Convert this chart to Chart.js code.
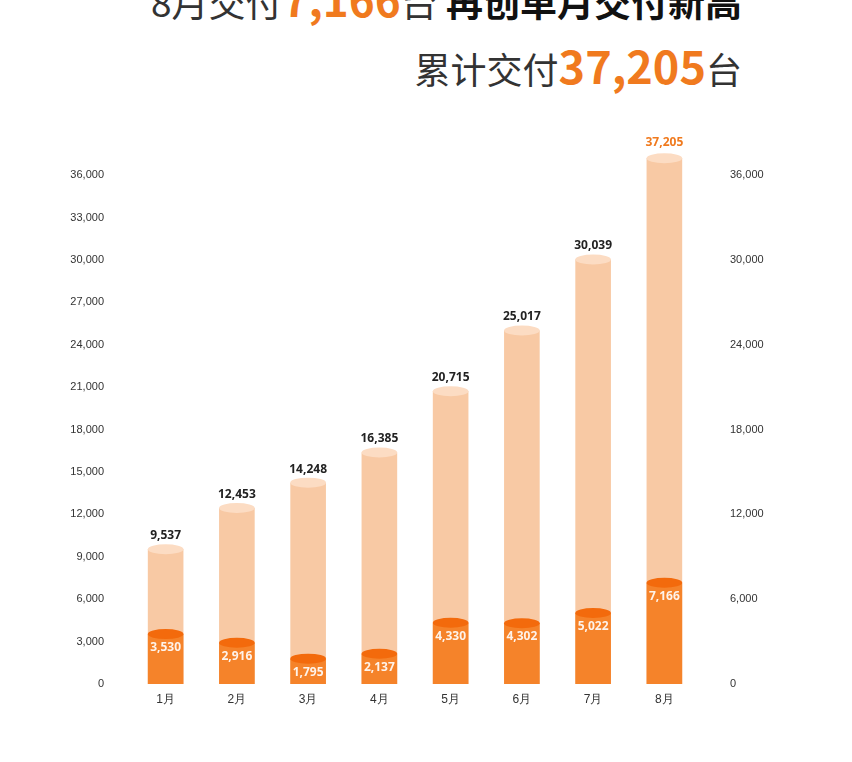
<!DOCTYPE html>
<html>
<head>
<meta charset="utf-8">
<script src="https://cdn.jsdelivr.net/npm/chart.js@4/dist/chart.umd.min.js"></script>
<style>
  body { margin: 0; background: #fff; font-family: "Noto Sans CJK SC", "Noto Sans", sans-serif; }
  #page { position: relative; width: 852px; height: 762px; overflow: hidden; }
  .t1 { position: absolute; right: 110px; top: -34px; font-size: 37px; color: #333; white-space: nowrap; }
  .t2 { position: absolute; right: 110px; top: 32px; font-size: 36px; color: #333; white-space: nowrap; }
  .or { color: #f07a1e; font-weight: bold; }
  .bk { color: #111; font-weight: bold; }
  #wrap { position: absolute; left: 0; top: 100px; width: 852px; height: 620px; }
</style>
</head>
<body>
<div id="page">
  <div class="t1">8月交付<span class="or" style="font-size:44px">7,166</span>台 <span class="bk">再创单月交付新高</span></div>
  <div class="t2">累计交付<span class="or" style="font-size:45px">37,205</span>台</div>
  <div id="wrap"><canvas id="chart"></canvas></div>
</div>
<script>
const months = ['1月', '2月', '3月', '4月', '5月', '6月', '7月', '8月'];
const cumulative = [9537, 12453, 14248, 16385, 20715, 25017, 30039, 37205];
const monthly = [3530, 2916, 1795, 2137, 4330, 4302, 5022, 7166];
const leftTicks = [0, 3000, 6000, 9000, 12000, 15000, 18000, 21000, 24000, 27000, 30000, 33000, 36000];
const rightTicks = [0, 6000, 12000, 18000, 24000, 30000, 36000];

function fmt(v) { return v.toLocaleString('en-US'); }

const cylinderPlugin = {
    id: 'cylinder',
    afterDatasetsDraw(chart) {
        const ctx = chart.ctx;
        const caps = ['#fcdcc3', '#f36a0c'];
        [0, 1].forEach(di => {
            chart.getDatasetMeta(di).data.forEach((bar, i) => {
                const w = bar.width;
                ctx.save();
                ctx.fillStyle = caps[di];
                ctx.beginPath();
                ctx.ellipse(bar.x, bar.y, w / 2, 5, 0, 0, Math.PI * 2);
                ctx.fill();
                ctx.textAlign = 'center';
                ctx.font = 'bold 12px "Noto Sans", sans-serif';
                if (di === 0) {
                    ctx.fillStyle = i === 7 ? '#f07a1e' : '#222';
                    ctx.fillText(fmt(cumulative[i]), bar.x, bar.y - (i === 7 ? 12 : 10));
                } else {
                    ctx.fillStyle = 'rgba(255,255,255,0.9)';
                    ctx.fillText(fmt(monthly[i]), bar.x, bar.y + 17);
                }
                ctx.restore();
            });
        });
    }
};

function sideGradient(context, c1, c2, c3, fallback) {
    const bar = context.element;
    if (!bar || !bar.width) return fallback;
    const g = context.chart.ctx.createLinearGradient(bar.x - bar.width / 2, 0, bar.x + bar.width / 2, 0);
    g.addColorStop(0, c1);
    g.addColorStop(0.45, c2);
    g.addColorStop(1, c3);
    return g;
}

new Chart(document.getElementById('chart'), {
    type: 'bar',
    data: {
        labels: months,
        datasets: [
            {
                label: '累计交付',
                data: cumulative,
                grouped: false,
                order: 2,
                backgroundColor: c => sideGradient(c, '#f7bd92', '#fad3b4', '#f6c099', '#f8c9a4'),
                barPercentage: 0.5,
                categoryPercentage: 1
            },
            {
                label: '月交付',
                data: monthly,
                grouped: false,
                order: 1,
                backgroundColor: c => sideGradient(c, '#ee7418', '#f89545', '#ef7a20', '#f5832a'),
                barPercentage: 0.5,
                categoryPercentage: 1
            }
        ]
    },
    options: {
        responsive: true,
        maintainAspectRatio: false,
        animation: false,
        layout: { padding: { top: 8, bottom: 0, left: 0, right: 0 } },
        plugins: { legend: { display: false }, tooltip: { enabled: false } },
        scales: {
            x: {
                grid: { display: false },
                border: { display: false },
                ticks: { color: '#333', font: { size: 12 }, padding: 0 },
                afterFit(scale) { scale.height = 36; }
            },
            y: {
                position: 'left',
                min: 0,
                max: 39300,
                grid: { display: false },
                border: { display: false },
                afterBuildTicks(scale) { scale.ticks = leftTicks.map(v => ({ value: v })); },
                ticks: { color: '#333', font: { size: 11 }, padding: 18, callback: v => fmt(v) },
                afterFit(scale) { scale.width = 130; }
            },
            y2: {
                position: 'right',
                min: 0,
                max: 39300,
                grid: { display: false },
                border: { display: false },
                afterBuildTicks(scale) { scale.ticks = rightTicks.map(v => ({ value: v })); },
                ticks: { color: '#333', font: { size: 11 }, padding: 22, callback: v => fmt(v) },
                afterFit(scale) { scale.width = 152; }
            }
        }
    },
    plugins: [cylinderPlugin]
});
</script>
</body>
</html>
